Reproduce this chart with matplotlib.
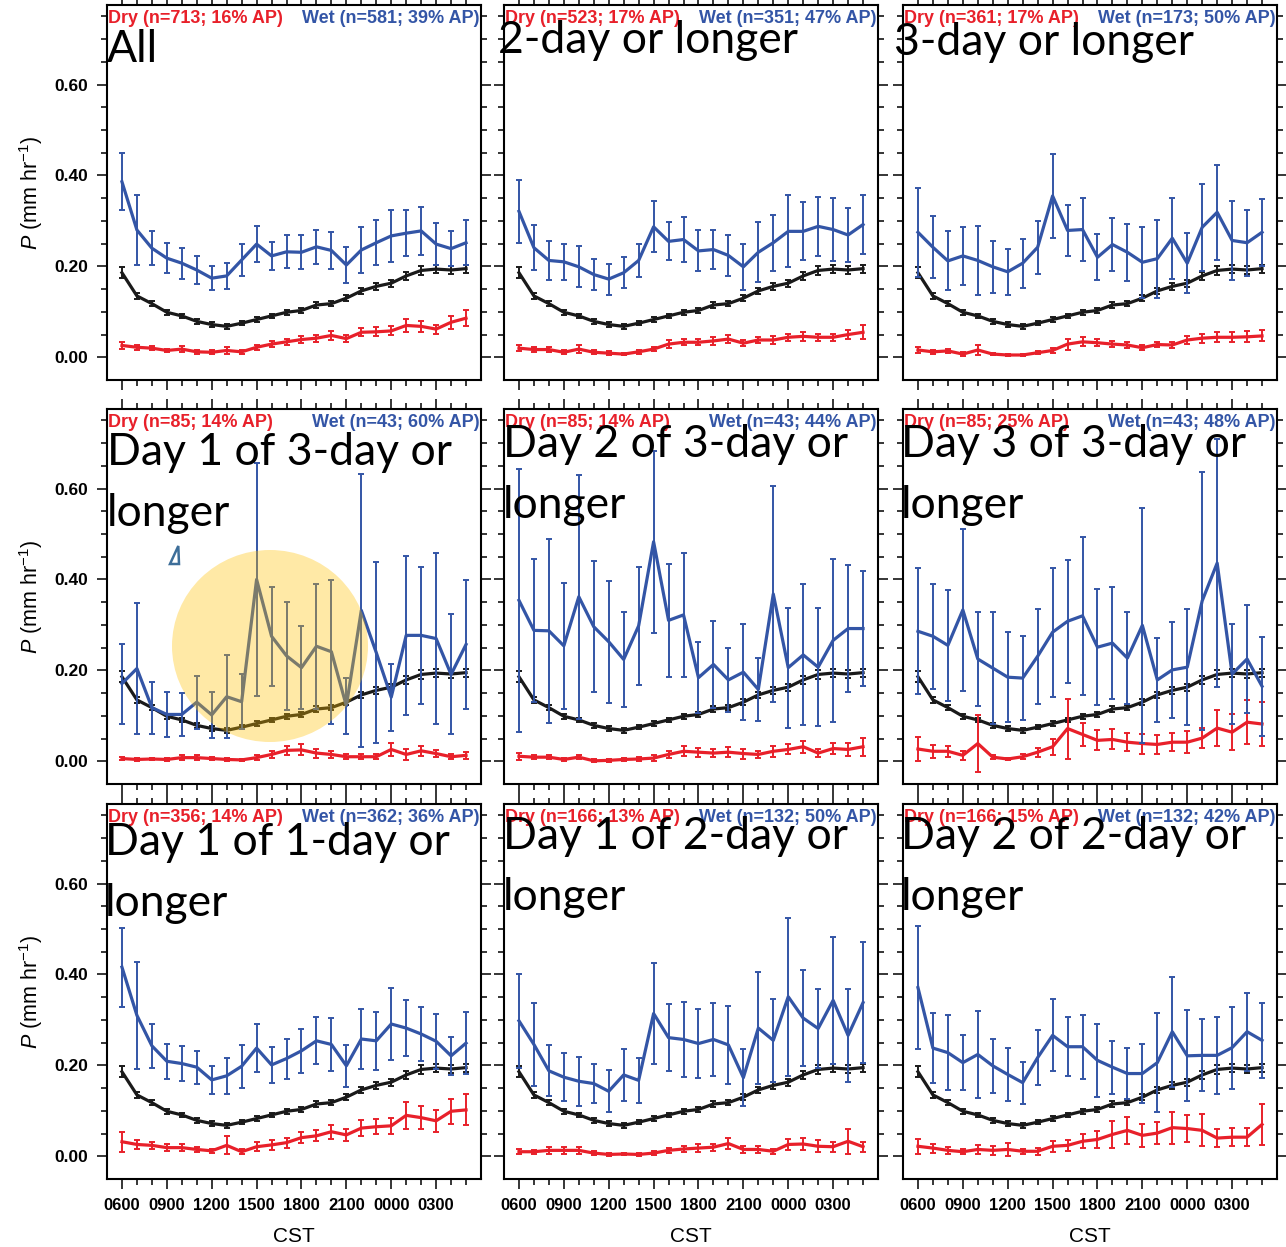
import numpy as np
import matplotlib.pyplot as plt
from matplotlib.patches import Ellipse, Polygon
from matplotlib.ticker import FixedLocator

plt.rcParams['font.family'] = ['Liberation Sans', 'DejaVu Sans']
plt.rcParams['mathtext.fontset'] = 'custom'
plt.rcParams['mathtext.rm'] = 'Liberation Sans'
plt.rcParams['mathtext.it'] = 'Liberation Sans:italic'

hours = np.arange(24)  # 0600 ... 0500 CST
hour_labels = ["0600", "0900", "1200", "1500", "1800", "2100", "0000", "0300"]

# climatological mean diurnal cycle (same in every panel)
clim = [0.186, 0.135, 0.118, 0.099, 0.091, 0.079, 0.072, 0.068, 0.075, 0.083, 0.091, 0.099,
        0.103, 0.115, 0.118, 0.130, 0.146, 0.156, 0.163, 0.179, 0.191, 0.194, 0.192, 0.195]
clim_err = [0.012, 0.007, 0.006, 0.005, 0.005, 0.005, 0.005, 0.005, 0.005, 0.005, 0.005, 0.005,
            0.006, 0.006, 0.006, 0.007, 0.007, 0.008, 0.008, 0.008, 0.009, 0.009, 0.009, 0.009]

# All
wet_all = [0.386, 0.280, 0.240, 0.218, 0.207, 0.192, 0.174, 0.179, 0.214, 0.249, 0.223, 0.232,
           0.231, 0.243, 0.235, 0.203, 0.236, 0.252, 0.267, 0.273, 0.278, 0.249, 0.239, 0.252]
wet_all_err = [0.063, 0.077, 0.038, 0.033, 0.034, 0.030, 0.026, 0.029, 0.035, 0.039, 0.031, 0.036,
               0.037, 0.037, 0.041, 0.039, 0.050, 0.050, 0.057, 0.050, 0.053, 0.047, 0.039, 0.050]
dry_all = [0.026, 0.022, 0.020, 0.015, 0.018, 0.012, 0.011, 0.015, 0.012, 0.022, 0.029, 0.034,
           0.039, 0.042, 0.048, 0.041, 0.055, 0.056, 0.058, 0.070, 0.068, 0.062, 0.077, 0.086]
dry_all_err = [0.008, 0.005, 0.005, 0.004, 0.006, 0.004, 0.004, 0.007, 0.004, 0.006, 0.007, 0.006,
               0.007, 0.008, 0.009, 0.008, 0.009, 0.010, 0.010, 0.015, 0.012, 0.010, 0.014, 0.018]

# 2-day or longer
wet_ge2 = [0.321, 0.241, 0.213, 0.210, 0.199, 0.182, 0.172, 0.186, 0.213, 0.287, 0.255, 0.259,
           0.234, 0.237, 0.224, 0.199, 0.231, 0.252, 0.277, 0.277, 0.288, 0.281, 0.269, 0.292]
wet_ge2_err = [0.070, 0.050, 0.042, 0.040, 0.045, 0.034, 0.034, 0.034, 0.037, 0.056, 0.042, 0.049,
               0.045, 0.042, 0.045, 0.050, 0.066, 0.062, 0.079, 0.064, 0.065, 0.069, 0.059, 0.065]
dry_ge2 = [0.020, 0.017, 0.017, 0.011, 0.018, 0.011, 0.009, 0.007, 0.012, 0.018, 0.029, 0.033,
           0.033, 0.036, 0.040, 0.031, 0.038, 0.038, 0.044, 0.046, 0.044, 0.044, 0.050, 0.055]
dry_ge2_err = [0.007, 0.005, 0.005, 0.004, 0.009, 0.004, 0.004, 0.003, 0.004, 0.005, 0.008, 0.007,
               0.007, 0.008, 0.008, 0.006, 0.007, 0.008, 0.008, 0.010, 0.008, 0.008, 0.010, 0.015]

# 3-day or longer
wet_ge3 = [0.275, 0.242, 0.212, 0.223, 0.213, 0.199, 0.188, 0.207, 0.242, 0.355, 0.279, 0.281,
           0.220, 0.248, 0.231, 0.209, 0.217, 0.262, 0.207, 0.286, 0.319, 0.257, 0.252, 0.275]
wet_ge3_err = [0.098, 0.068, 0.065, 0.064, 0.076, 0.057, 0.051, 0.054, 0.058, 0.092, 0.056, 0.069,
               0.051, 0.058, 0.063, 0.078, 0.086, 0.089, 0.066, 0.096, 0.105, 0.086, 0.073, 0.074]
dry_ge3 = [0.016, 0.012, 0.014, 0.007, 0.016, 0.007, 0.005, 0.005, 0.010, 0.015, 0.029, 0.034,
           0.032, 0.029, 0.027, 0.021, 0.028, 0.027, 0.038, 0.042, 0.044, 0.044, 0.045, 0.047]
dry_ge3_err = [0.006, 0.004, 0.005, 0.004, 0.011, 0.003, 0.003, 0.003, 0.003, 0.005, 0.012, 0.010,
               0.008, 0.007, 0.007, 0.006, 0.006, 0.006, 0.009, 0.010, 0.011, 0.011, 0.012, 0.012]

# Day 1 of 3-day or longer
wet_d1of3 = [0.171, 0.204, 0.118, 0.103, 0.103, 0.130, 0.102, 0.142, 0.131, 0.400, 0.275, 0.232,
             0.206, 0.253, 0.241, 0.122, 0.332, 0.239, 0.141, 0.277, 0.277, 0.270, 0.191, 0.257]
wet_d1of3_err = [0.088, 0.144, 0.057, 0.050, 0.048, 0.058, 0.050, 0.091, 0.060, 0.256, 0.109, 0.119,
                 0.091, 0.138, 0.158, 0.062, 0.301, 0.199, 0.074, 0.175, 0.150, 0.188, 0.132, 0.142]
dry_d1of3 = [0.006, 0.004, 0.005, 0.004, 0.008, 0.008, 0.006, 0.004, 0.003, 0.008, 0.015, 0.024,
             0.025, 0.018, 0.015, 0.010, 0.010, 0.010, 0.026, 0.015, 0.023, 0.017, 0.010, 0.013]
dry_d1of3_err = [0.004, 0.003, 0.003, 0.003, 0.005, 0.005, 0.004, 0.003, 0.003, 0.006, 0.007, 0.010,
                 0.012, 0.010, 0.008, 0.005, 0.005, 0.005, 0.015, 0.012, 0.011, 0.008, 0.006, 0.008]

# Day 2 of 3-day or longer
wet_d2of3 = [0.354, 0.288, 0.287, 0.254, 0.362, 0.296, 0.263, 0.224, 0.298, 0.483, 0.310, 0.322,
             0.184, 0.213, 0.179, 0.196, 0.158, 0.368, 0.206, 0.234, 0.207, 0.266, 0.292, 0.292]
wet_d2of3_err = [0.289, 0.158, 0.202, 0.138, 0.268, 0.144, 0.134, 0.104, 0.130, 0.200, 0.125, 0.137,
                 0.078, 0.096, 0.070, 0.106, 0.069, 0.237, 0.132, 0.155, 0.130, 0.180, 0.139, 0.126]
dry_d2of3 = [0.011, 0.009, 0.009, 0.004, 0.009, 0.001, 0.002, 0.004, 0.005, 0.007, 0.015, 0.022,
             0.020, 0.018, 0.020, 0.017, 0.015, 0.022, 0.026, 0.032, 0.018, 0.028, 0.026, 0.032]
dry_d2of3_err = [0.008, 0.005, 0.005, 0.004, 0.005, 0.003, 0.003, 0.003, 0.004, 0.006, 0.008, 0.011,
                 0.010, 0.009, 0.011, 0.011, 0.008, 0.012, 0.011, 0.013, 0.009, 0.013, 0.015, 0.020]

# Day 3 of 3-day or longer
wet_d3of3 = [0.286, 0.275, 0.255, 0.333, 0.225, 0.205, 0.185, 0.183, 0.231, 0.284, 0.308, 0.320,
             0.251, 0.260, 0.227, 0.299, 0.179, 0.201, 0.207, 0.353, 0.436, 0.192, 0.225, 0.165]
wet_d3of3_err = [0.139, 0.116, 0.122, 0.178, 0.104, 0.123, 0.099, 0.093, 0.104, 0.142, 0.135, 0.174,
                 0.127, 0.124, 0.101, 0.259, 0.092, 0.106, 0.128, 0.284, 0.272, 0.109, 0.118, 0.109]
dry_d3of3 = [0.027, 0.022, 0.022, 0.013, 0.039, 0.009, 0.005, 0.010, 0.020, 0.032, 0.072, 0.059,
             0.046, 0.048, 0.042, 0.039, 0.037, 0.042, 0.042, 0.051, 0.073, 0.064, 0.086, 0.082]
dry_d3of3_err = [0.027, 0.014, 0.012, 0.010, 0.063, 0.004, 0.003, 0.005, 0.010, 0.018, 0.066, 0.025,
                 0.022, 0.022, 0.020, 0.022, 0.020, 0.020, 0.024, 0.022, 0.040, 0.040, 0.048, 0.048]

# Day 1 of 1-day or longer
wet_d1of1 = [0.416, 0.310, 0.243, 0.209, 0.204, 0.196, 0.168, 0.177, 0.198, 0.238, 0.201, 0.215,
             0.232, 0.254, 0.246, 0.199, 0.258, 0.254, 0.291, 0.282, 0.269, 0.253, 0.221, 0.249]
wet_d1of1_err = [0.087, 0.118, 0.049, 0.038, 0.039, 0.036, 0.031, 0.039, 0.047, 0.052, 0.040, 0.044,
                 0.049, 0.052, 0.059, 0.046, 0.067, 0.064, 0.079, 0.062, 0.059, 0.061, 0.042, 0.068]
dry_d1of1 = [0.032, 0.026, 0.024, 0.019, 0.019, 0.015, 0.012, 0.024, 0.010, 0.021, 0.025, 0.030,
             0.041, 0.045, 0.054, 0.047, 0.062, 0.065, 0.067, 0.090, 0.085, 0.078, 0.099, 0.102]
dry_d1of1_err = [0.022, 0.010, 0.008, 0.007, 0.007, 0.005, 0.005, 0.020, 0.005, 0.010, 0.011, 0.011,
                 0.012, 0.012, 0.015, 0.014, 0.017, 0.017, 0.017, 0.029, 0.026, 0.024, 0.028, 0.034]

# Day 1 of 2-day or longer
wet_d1of2 = [0.298, 0.246, 0.188, 0.174, 0.165, 0.160, 0.143, 0.179, 0.167, 0.314, 0.261, 0.257,
             0.248, 0.257, 0.245, 0.173, 0.282, 0.255, 0.351, 0.304, 0.281, 0.343, 0.266, 0.338]
wet_d1of2_err = [0.104, 0.092, 0.056, 0.053, 0.054, 0.043, 0.046, 0.057, 0.049, 0.112, 0.074, 0.082,
                 0.075, 0.080, 0.086, 0.063, 0.123, 0.092, 0.174, 0.105, 0.086, 0.140, 0.103, 0.133]
dry_d1of2 = [0.010, 0.010, 0.013, 0.013, 0.013, 0.007, 0.004, 0.005, 0.004, 0.007, 0.013, 0.016,
             0.018, 0.020, 0.028, 0.015, 0.015, 0.011, 0.026, 0.027, 0.022, 0.021, 0.033, 0.021]
dry_d1of2_err = [0.006, 0.004, 0.007, 0.007, 0.007, 0.004, 0.003, 0.003, 0.003, 0.004, 0.006, 0.007,
                 0.008, 0.008, 0.012, 0.007, 0.007, 0.005, 0.012, 0.013, 0.013, 0.011, 0.027, 0.011]

# Day 2 of 2-day or longer
wet_d2of2 = [0.371, 0.238, 0.228, 0.206, 0.224, 0.199, 0.180, 0.162, 0.217, 0.266, 0.241, 0.241,
             0.211, 0.196, 0.182, 0.182, 0.206, 0.274, 0.221, 0.222, 0.222, 0.239, 0.274, 0.255]
wet_d2of2_err = [0.136, 0.077, 0.083, 0.060, 0.095, 0.060, 0.059, 0.046, 0.061, 0.079, 0.065, 0.070,
                 0.080, 0.058, 0.057, 0.065, 0.109, 0.121, 0.100, 0.079, 0.084, 0.090, 0.086, 0.083]
dry_d2of2 = [0.022, 0.018, 0.013, 0.010, 0.015, 0.013, 0.015, 0.011, 0.011, 0.022, 0.024, 0.033,
             0.037, 0.048, 0.057, 0.046, 0.051, 0.063, 0.061, 0.057, 0.040, 0.042, 0.042, 0.070]
dry_d2of2_err = [0.016, 0.010, 0.007, 0.005, 0.010, 0.010, 0.015, 0.006, 0.008, 0.012, 0.012, 0.015,
                 0.018, 0.030, 0.030, 0.025, 0.025, 0.035, 0.030, 0.035, 0.020, 0.020, 0.020, 0.045]

titles = ["All", "2-day or longer", "3-day or longer",
          "Day 1 of 3-day or\nlonger", "Day 2 of 3-day or\nlonger", "Day 3 of 3-day or\nlonger",
          "Day 1 of 1-day or\nlonger", "Day 1 of 2-day or\nlonger", "Day 2 of 2-day or\nlonger"]
dry_labels = ["Dry (n=713; 16% AP)", "Dry (n=523; 17% AP)", "Dry (n=361; 17% AP)",
              "Dry (n=85; 14% AP)", "Dry (n=85; 14% AP)", "Dry (n=85; 25% AP)",
              "Dry (n=356; 14% AP)", "Dry (n=166; 13% AP)", "Dry (n=166; 15% AP)"]
wet_labels = ["Wet (n=581; 39% AP)", "Wet (n=351; 47% AP)", "Wet (n=173; 50% AP)",
              "Wet (n=43; 60% AP)", "Wet (n=43; 44% AP)", "Wet (n=43; 48% AP)",
              "Wet (n=362; 36% AP)", "Wet (n=132; 50% AP)", "Wet (n=132; 42% AP)"]

dry_series = [(dry_all, dry_all_err), (dry_ge2, dry_ge2_err), (dry_ge3, dry_ge3_err),
              (dry_d1of3, dry_d1of3_err), (dry_d2of3, dry_d2of3_err), (dry_d3of3, dry_d3of3_err),
              (dry_d1of1, dry_d1of1_err), (dry_d1of2, dry_d1of2_err), (dry_d2of2, dry_d2of2_err)]
wet_series = [(wet_all, wet_all_err), (wet_ge2, wet_ge2_err), (wet_ge3, wet_ge3_err),
              (wet_d1of3, wet_d1of3_err), (wet_d2of3, wet_d2of3_err), (wet_d3of3, wet_d3of3_err),
              (wet_d1of1, wet_d1of1_err), (wet_d1of2, wet_d1of2_err), (wet_d2of2, wet_d2of2_err)]

RED = '#e8202a'
BLUE = '#3355a6'
BLACK = '#1a1a1a'

# layout in pixels
W, H = 1286, 1247
col_left = [107, 504, 903]
row_top = [5, 409, 804]
pw, ph = 374, 375
title_pos = [(107, 62), (498, 53), (894, 55),
             (107, 465), (503, 457), (901, 457),
             (105, 855), (503, 849), (901, 849)]
line_gap = 61

fig = plt.figure(figsize=(W / 100, H / 100), dpi=100)


def fx(px):
    return px / W


def fy(py):
    return 1 - py / H


for i in range(9):
    r, c = divmod(i, 3)
    ax = fig.add_axes([fx(col_left[c]), fy(row_top[r] + ph), pw / W, ph / H])

    ax.errorbar(hours, clim, yerr=clim_err, color=BLACK, lw=2.3,
                elinewidth=1.4, capsize=2.3, capthick=1.4, zorder=2)
    d, de = dry_series[i]
    ax.errorbar(hours, d, yerr=de, color=RED, lw=2.3,
                elinewidth=1.4, capsize=2.3, capthick=1.4, zorder=3)
    w, we = wet_series[i]
    ax.errorbar(hours, w, yerr=we, color=BLUE, lw=2.3,
                elinewidth=1.4, capsize=2.3, capthick=1.4, zorder=4)

    ax.set_xlim(-1, 24)
    ax.set_ylim(-0.05, 0.775)
    ax.xaxis.set_major_locator(FixedLocator(hours[::3]))
    ax.xaxis.set_minor_locator(FixedLocator(hours))
    ax.yaxis.set_major_locator(FixedLocator([0.0, 0.2, 0.4, 0.6]))
    ax.yaxis.set_minor_locator(FixedLocator(np.arange(0, 0.76, 0.05)))
    ax.tick_params(which='both', direction='out', top=True, right=True, width=1.1, pad=6)
    ax.tick_params(axis='x', labelsize=12)
    ax.tick_params(axis='y', labelsize=12.5)
    ax.tick_params(which='major', length=7.5)
    ax.tick_params(which='minor', length=4)
    for s in ax.spines.values():
        s.set_linewidth(1.5)

    if r == 2:
        ax.set_xticklabels(hour_labels, fontweight='bold')
        fig.text(fx(col_left[c] + pw / 2), fy(1236), "CST", fontsize=15,
                 ha='center', va='center')
    else:
        ax.set_xticklabels([])
    if c == 0:
        ax.set_yticklabels(["0.00", "0.20", "0.40", "0.60"], fontweight='bold')
        fig.text(fx(31), fy(row_top[r] + ph / 2), r'$P$ (mm hr$^{-1}$)', fontsize=15.5,
                 rotation=90, ha='center', va='center')
    else:
        ax.set_yticklabels([])

    ax.text(0.004, 1 - 18 / ph, dry_labels[i], transform=ax.transAxes, color=RED,
            fontsize=13, fontweight='bold', ha='left', va='baseline')
    ax.text(0.996, 1 - 18 / ph, wet_labels[i], transform=ax.transAxes, color=BLUE,
            fontsize=13, fontweight='bold', ha='right', va='baseline')

    tx, ty = title_pos[i]
    for k, line in enumerate(titles[i].split("\n")):
        fig.text(fx(tx), fy(ty + k * line_gap), line, fontsize=32, family='Lato',
                 ha='left', va='baseline', zorder=6)

# highlight over the daytime wet peak of day 1
fig.add_artist(Ellipse((2.70, 6.01), 1.96, 1.92, transform=fig.dpi_scale_trans,
                       facecolor='#ffc000', edgecolor='none', alpha=0.35, zorder=5))
fig.add_artist(Polygon([(1.783, 7.01), (1.79, 6.83), (1.70, 6.83)], closed=True,
                       transform=fig.dpi_scale_trans, fill=False,
                       edgecolor='#3d6e99', lw=1.8, zorder=5))

fig.savefig('out.png', dpi=100)
